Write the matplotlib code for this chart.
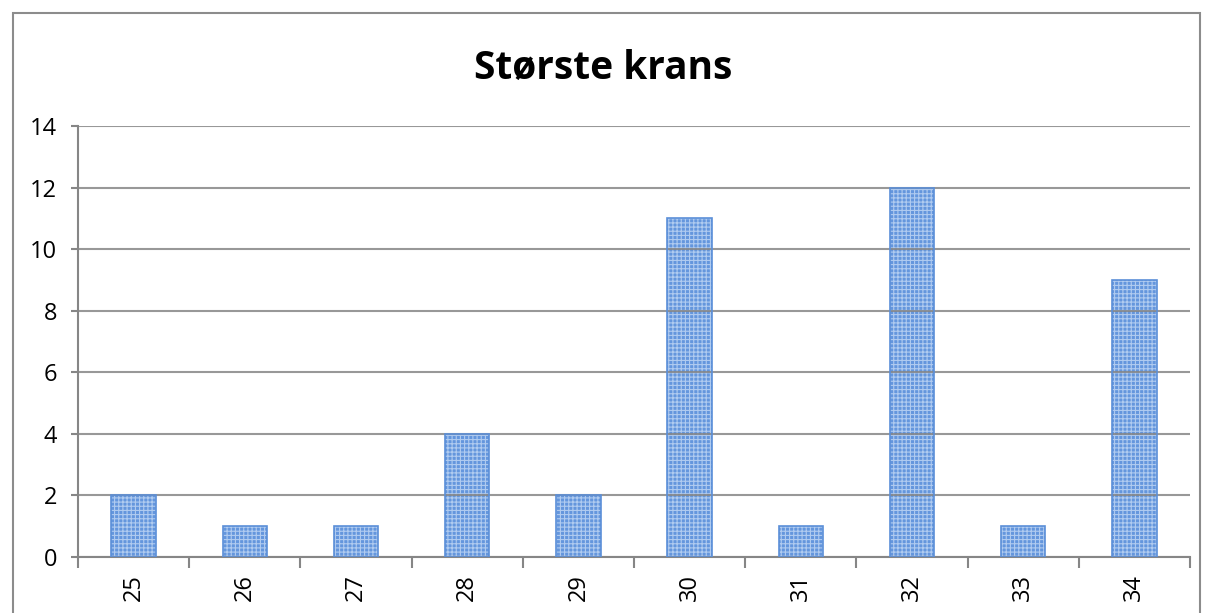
import matplotlib
matplotlib.use("Agg")
import matplotlib.pyplot as plt
from matplotlib.patches import Rectangle
import numpy as np

categories = ["25", "26", "27", "28", "29", "30", "31", "32", "33", "34"]
counts = [2, 1, 1, 4, 2, 11, 1, 12, 1, 9]

plt.rcParams['font.family'] = ['Open Sans', 'DejaVu Sans']
plt.rcParams['hatch.linewidth'] = 0.8

fig = plt.figure(figsize=(12.07, 6.13), dpi=100)
ax = fig.add_axes([78 / 1207, 56 / 613, 1112 / 1207, 431 / 613])

x = np.arange(len(categories))
grey = '#868686'
# pattern fill, then outline
ax.bar(x, counts, width=0.4, color='#6496dd', edgecolor='#b0cbf0', hatch='++++', linewidth=0, zorder=2)
ax.bar(x, counts, width=0.4, fill=False, edgecolor='#5b8fd8', linewidth=1.2, zorder=3)

ax.set_ylim(0, 14)
ax.set_xlim(-0.5, len(categories) - 0.5)
ax.set_yticks(range(0, 15, 2))
ax.set_xticks(x)
ax.set_xticklabels(categories, rotation=90)
ax.set_xticks(np.arange(-0.5, len(categories)), minor=True)
ax.tick_params(axis='x', which='major', length=0, pad=12, labelsize=17)
ax.tick_params(axis='x', which='minor', length=8, color=grey, width=1.5)
ax.tick_params(axis='y', length=5, color=grey, width=1.5, labelsize=17, pad=10)
ax.yaxis.grid(True, color=grey, linewidth=1.5, alpha=0.85, zorder=4)
ax.set_axisbelow(False)
for s in ['top', 'right']:
    ax.spines[s].set_visible(False)
for s in ['left', 'bottom']:
    ax.spines[s].set_color(grey)
    ax.spines[s].set_linewidth(1.5)

fig.text(0.5, 1 - 68 / 613, "Største krans", ha='center', va='center', fontsize=28, fontweight='bold')

# chart border
fig.patches.append(Rectangle((13 / 1207, -0.05), 1187 / 1207, 1.05 - 13 / 613,
                             transform=fig.transFigure, fill=False,
                             edgecolor='#8c8c8c', linewidth=1.5))

fig.savefig("out.png", dpi=100)
